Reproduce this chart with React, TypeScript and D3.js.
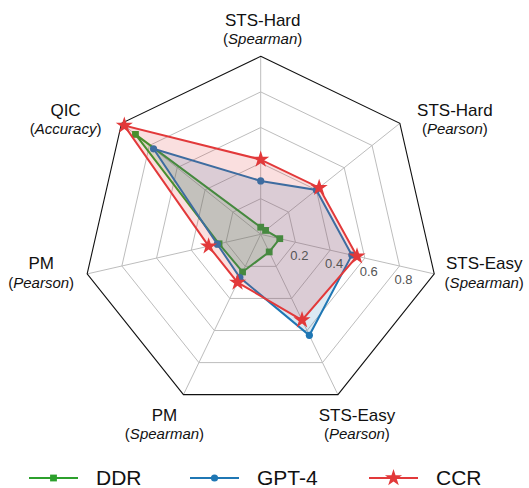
import * as d3 from 'd3';

// axis labels, clockwise from the top
const axisNames = ['STS-Hard', 'STS-Hard', 'STS-Easy', 'STS-Easy', 'PM', 'PM', 'QIC'];
const axisMetrics = ['Spearman', 'Pearson', 'Spearman', 'Pearson', 'Spearman', 'Pearson', 'Accuracy'];

const ddr = [0.04, 0.035, 0.11, 0.11, 0.235, 0.24, 0.9];
const gpt4 = [0.3, 0.4, 0.525, 0.63, 0.27, 0.25, 0.77];
const ccr = [0.42, 0.42, 0.555, 0.535, 0.3, 0.3, 0.98];

const ringTicks = [0.2, 0.4, 0.6, 0.8];
const tickLabels = ['0.2', '0.4', '0.6', '0.8'];

const W = 529;
const H = 488;
const cx = 260.7;
const cy = 234.3;
const R = 178;
const font = '"Liberation Sans", Arial, Helvetica, sans-serif';

// label block centre, relative to the outer vertex of its axis
const labelOffsets: [number, number][] = [
  [2, -26], [55, -3], [50, 0], [19, 31], [-19, 31], [-46, 0], [-56, -3],
];

const series = [
  { name: 'DDR', values: ddr, color: '#2ca02c', marker: 'square' },
  { name: 'GPT-4', values: gpt4, color: '#1f77b4', marker: 'circle' },
  { name: 'CCR', values: ccr, color: '#e2393a', marker: 'star' },
];

const step = (2 * Math.PI) / axisNames.length;
const r = d3.scaleLinear().domain([0, 1]).range([0, R]);
const pt = (i: number, v: number): [number, number] => [
  Math.sin(i * step) * r(v),
  -Math.cos(i * step) * r(v),
];

const starPath = (ro: number) => {
  const ri = ro * 0.382;
  const pts: [number, number][] = [];
  for (let k = 0; k < 10; k++) {
    const a = (k * Math.PI) / 5;
    const rr = k % 2 === 0 ? ro : ri;
    pts.push([Math.sin(a) * rr, -Math.cos(a) * rr]);
  }
  return 'M' + pts.map(p => p.join(',')).join('L') + 'Z';
};

const Marker = ({ type, color, x, y }: { type: string; color: string; x: number; y: number }) => {
  if (type === 'square') return <rect x={x - 3.4} y={y - 3.4} width={6.8} height={6.8} fill={color} />;
  if (type === 'circle') return <circle cx={x} cy={y} r={3.6} fill={color} />;
  return <path d={starPath(9)} transform={`translate(${x},${y})`} fill={color} />;
};

export default function App() {
  const ring = (v: number) =>
    d3.lineRadial<number>()
      .angle((_, i) => i * step)
      .radius(() => r(v))
      .curve(d3.curveLinearClosed)(axisNames.map(() => v)) as string;

  const area = (vals: number[]) =>
    d3.lineRadial<number>()
      .angle((_, i) => i * step)
      .radius(d => r(d))
      .curve(d3.curveLinearClosed)(vals) as string;

  const legendX = [29, 190, 369];

  return (
    <svg width={W} height={H} style={{ position: 'absolute', left: 0, top: 0, background: '#fff' }}
      fontFamily={font}>
      <g transform={`translate(${cx},${cy})`}>
        {ringTicks.map(t => (
          <path key={t} d={ring(t)} fill="none" stroke="#bdbdbd" strokeWidth={1} />
        ))}
        {axisNames.map((_, i) => {
          const [x, y] = pt(i, 1);
          return <line key={i} x1={0} y1={0} x2={x} y2={y} stroke="#bdbdbd" strokeWidth={1} />;
        })}
        <path d={ring(1)} fill="none" stroke="#111" strokeWidth={1.1} />

        {series.map(s => (
          <g key={s.name}>
            <path d={area(s.values)} fill={s.color} fillOpacity={0.16} stroke="none" />
            <path d={area(s.values)} fill="none" stroke={s.color} strokeWidth={2} strokeLinejoin="miter" />
            {s.values.map((v, i) => {
              const [x, y] = pt(i, v);
              return <Marker key={i} type={s.marker} color={s.color} x={x} y={y} />;
            })}
          </g>
        ))}

        {ringTicks.map((t, k) => {
          const [x, y] = pt(2, t);
          return (
            <text key={t} x={x + 4} y={y + 13} dy="0.35em" textAnchor="middle" fontSize={13} fill="#555">
              {tickLabels[k]}
            </text>
          );
        })}

        {axisNames.map((name, i) => {
          const [x, y] = pt(i, 1);
          const lx = x + labelOffsets[i][0];
          const ly = y + labelOffsets[i][1];
          return (
            <g key={i}>
              <text x={lx} y={ly - 4.7} textAnchor="middle" fontSize={17} fill="#111">{name}</text>
              <text x={lx} y={ly + 13.8} textAnchor="middle" fontSize={15} fill="#111">
                (<tspan fontStyle="italic">{axisMetrics[i]}</tspan>)
              </text>
            </g>
          );
        })}
      </g>

      {series.map((s, k) => {
        const x0 = legendX[k];
        const y0 = 478;
        return (
          <g key={s.name}>
            <line x1={x0} x2={x0 + 49} y1={y0} y2={y0} stroke={s.color} strokeWidth={2} />
            <Marker type={s.marker} color={s.color} x={x0 + 24.5} y={y0} />
            <text x={x0 + 67} y={y0 + 7} fontSize={21} fill="#111">{s.name}</text>
          </g>
        );
      })}
    </svg>
  );
}
